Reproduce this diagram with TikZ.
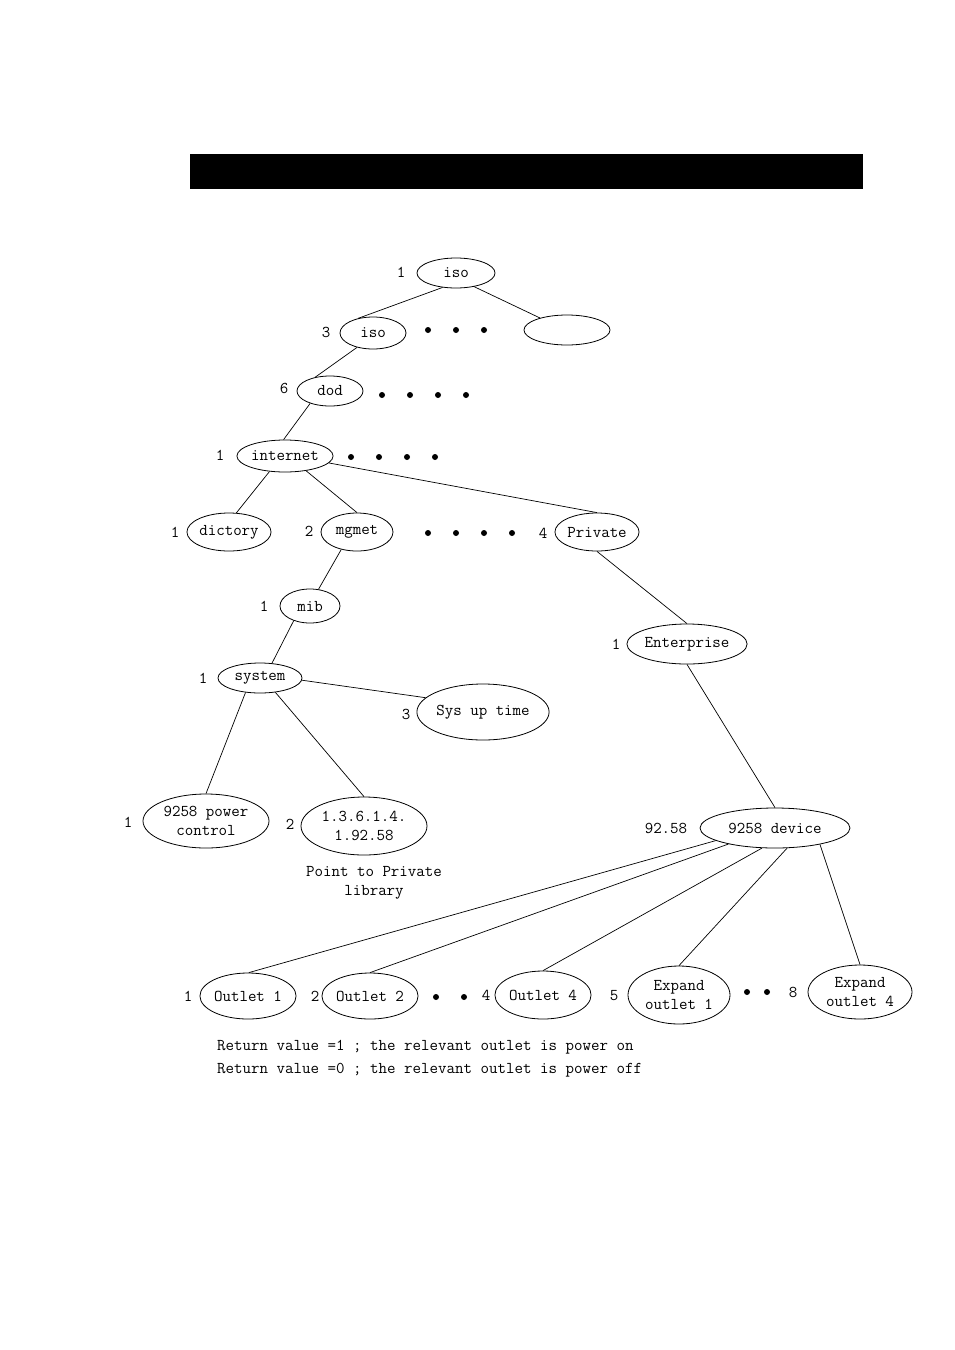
\documentclass[tikz,border=0pt]{standalone}
\usetikzlibrary{shapes.geometric}
\begin{document}
\begin{tikzpicture}[x=1pt,y=-1pt,
  nd/.style={ellipse,draw,line width=0.8pt,inner sep=0pt,align=center,font=\ttfamily\fontsize{16.5}{19}\selectfont},
  lab/.style={inner sep=0pt,font=\ttfamily\fontsize{16.5}{19}\selectfont},
  edge/.style={line width=0.7pt},
  dot/.style={circle,fill,inner sep=0pt,minimum size=6pt}]
\useasboundingbox (0,0) rectangle (954,1350);
\fill (190,154) rectangle (863,189);

% nodes
\node[nd,minimum width=78,minimum height=30] (iso1) at (456,273) {iso};
\node[nd,minimum width=66,minimum height=32] (iso3) at (373,333) {iso};
\node[nd,minimum width=86,minimum height=30] (empty) at (567,330) {};
\node[nd,minimum width=66,minimum height=30] (dod) at (330,391) {dod};
\node[nd,minimum width=96,minimum height=32] (internet) at (285,456) {internet};
\node[nd,minimum width=84,minimum height=38] (dictory) at (229,532) {dictory};
\node[nd,minimum width=72,minimum height=38] (mgmet) at (357,532) {mgmet};
\node[nd,minimum width=80,minimum height=38] (private) at (597,532) {Private};
\node[nd,minimum width=60,minimum height=34] (mib) at (310,606) {mib};
\node[nd,minimum width=84,minimum height=30] (system) at (260,678) {system};
\node[nd,minimum width=124,minimum height=56] (sysup) at (483,712) {Sys up time};
\node[nd,minimum width=112,minimum height=40] (enterprise) at (687,644) {Enterprise};
\node[nd,minimum width=126,minimum height=54] (power) at (206,821) {9258 power\\control};
\node[nd,minimum width=126,minimum height=58] (oid) at (364,826) {1.3.6.1.4.\\1.92.58};
\node[nd,minimum width=150,minimum height=40] (device) at (775,828) {9258 device};
\node[nd,minimum width=90,minimum height=46] (out1) at (248,996) {Outlet 1};
\node[nd,minimum width=90,minimum height=46] (out2) at (370,996) {Outlet 2};
\node[nd,minimum width=92,minimum height=48] (out4) at (543,995) {Outlet 4};
\node[nd,minimum width=102,minimum height=58] (exp1) at (679,995) {Expand\\outlet 1};
\node[nd,minimum width=104,minimum height=54] (exp4) at (860,992) {Expand\\outlet 4};

% number labels
\node[lab] (n1) at (401,272) {1};
\node[lab] (n3) at (326,332) {3};
\node[lab] (n6) at (284,388) {6};
\node[lab] (ni) at (220,455) {1};
\node[lab] (nd1) at (175,532) {1};
\node[lab] (nm2) at (309,531) {2};
\node[lab] (np4) at (543,533) {4};
\node[lab] (nmib) at (264,606) {1};
\node[lab] (nsys) at (203,678) {1};
\node[lab] (nsu) at (406,714) {3};
\node[lab] (nent) at (616,644) {1};
\node[lab] (npw) at (128,822) {1};
\node[lab] (noid) at (290,824) {2};
\node[lab] (ndev) at (666,828) {92.58};
\node[lab] (no1) at (188,996) {1};
\node[lab] (no2) at (315,996) {2};
\node[lab] (no4) at (486,995) {4};
\node[lab] (ne1) at (614,996) {5};
\node[lab] (ne4) at (793,992) {8};

% dots
\node[dot] (a1) at (428,330) {};
\node[dot] (a2) at (456,330) {};
\node[dot] (a3) at (484,330) {};
\node[dot] (b1) at (382,395) {};
\node[dot] (b2) at (410,395) {};
\node[dot] (b3) at (438,395) {};
\node[dot] (b4) at (466,395) {};
\node[dot] (c1) at (351,457) {};
\node[dot] (c2) at (379,457) {};
\node[dot] (c3) at (407,457) {};
\node[dot] (c4) at (435,457) {};
\node[dot] (e1) at (428,533) {};
\node[dot] (e2) at (456,533) {};
\node[dot] (e3) at (484,533) {};
\node[dot] (e4) at (512,533) {};
\node[dot] (f1) at (436,997) {};
\node[dot] (f2) at (464,997) {};
\node[dot] (g1) at (747,992) {};
\node[dot] (g2) at (767,992) {};

% texts
\node[lab,align=center] (point) at (374,883) {Point to Private\\library};
\node[lab,align=left,anchor=north west,font=\ttfamily\fontsize{16.5}{23}\selectfont] (ret) at (217,1040) {Return value =1 ; the relevant outlet is power on\\Return value =0 ; the relevant outlet is power off};

% edges
\draw[edge] (iso1.227) -- (iso3.135);
\draw[edge] (iso1.323) -- (empty.156);
\draw[edge] (iso3.222) -- (dod.137);
\draw[edge] (dod.212) -- (internet.95);
\draw[edge] (internet.225) -- (dictory.69);
\draw[edge] (internet.325) -- (mgmet.90);
\draw[edge] (internet.351) -- (private.90);
\draw[edge] (mgmet.228) -- (mib.63);
\draw[edge] (mib.222) -- (system.51);
\draw[edge] (system.357) -- (sysup.166);
\draw[edge] (system.225) -- (power.90);
\draw[edge] (system.317) -- (oid.90);
\draw[edge] (private.270) -- (enterprise.90);
\draw[edge] (enterprise.270) -- (device.90);
\draw[edge] (device.192) -- (out1.88);
\draw[edge] (device.199.5) -- (out2.90);
\draw[edge] (device.237) -- (out4.90);
\draw[edge] (device.301) -- (exp1.90);
\draw[edge] (device.340.5) -- (exp4.90);
\end{tikzpicture}
\end{document}
